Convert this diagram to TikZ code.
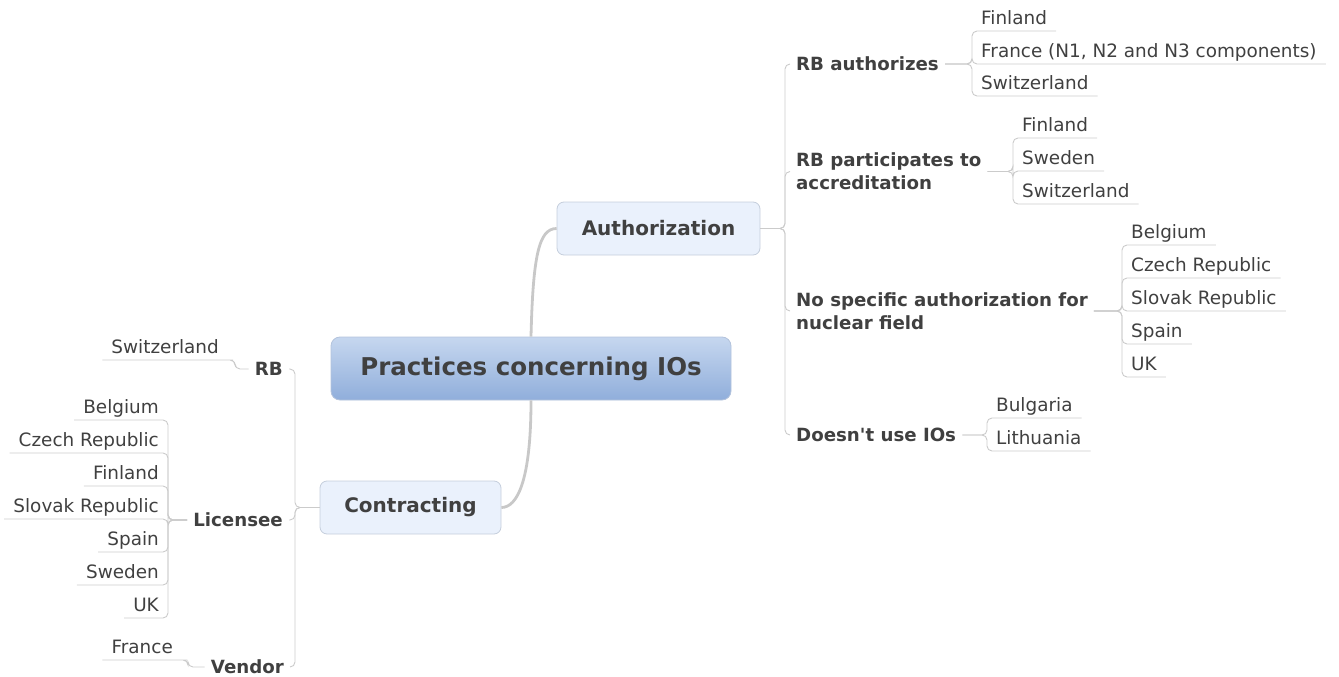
\documentclass[tikz,border=0pt]{standalone}
\usepackage{fontspec}
\setmainfont{DejaVu Sans}
\begin{document}
\definecolor{txt}{HTML}{404040}
\definecolor{ln}{HTML}{CBCBCB}
\definecolor{mainln}{HTML}{C8C8C8}
\definecolor{subfill}{HTML}{EAF1FC}
\definecolor{subdraw}{HTML}{C5CEDC}
\definecolor{ctop}{HTML}{C6D7EF}
\definecolor{cbot}{HTML}{90AEDB}
\definecolor{cdraw}{HTML}{B3C3DC}
\begin{tikzpicture}[x=1pt,y=-1pt,
  centerbox/.style={draw=cdraw, line width=0.8pt, rounded corners=9pt, top color=ctop, bottom color=cbot, minimum width=400pt, minimum height=63pt, text=txt, font=\fontsize{24.5}{28}\selectfont\bfseries, inner sep=0pt},
  subbox/.style={draw=subdraw, line width=0.8pt, rounded corners=7pt, fill=subfill, minimum height=53pt, text=txt, font=\fontsize{20}{24}\selectfont\bfseries, inner sep=0pt},
  lbl/.style={text=txt, font=\fontsize{18.2}{23}\selectfont\bfseries, inner xsep=6pt, inner ysep=0pt, align=left},
  lblr/.style={lbl, align=right},
  leaf/.style={text=txt, font=\fontsize{18.4}{22}\selectfont, inner xsep=9pt, inner ysep=1.5pt, text height=13.5pt, text depth=4.5pt},
  thinline/.style={draw=ln, line width=0.9pt, rounded corners=5pt},
  mainline/.style={draw=mainln, line width=2.8pt},
]
\useasboundingbox (0,0) rectangle (1339,677);

% central and main topics
\node[centerbox] (center) at (531,368.5) {Practices concerning IOs};
\node[subbox, minimum width=203pt] (auth) at (658.5,228.5) {Authorization};
\node[subbox, minimum width=181pt] (contr) at (410.5,507.5) {Contracting};

\draw[mainline] (center.north) .. controls +(2,-80) and +(-18,0) .. (auth.west);
\draw[mainline] (center.south) .. controls +(0,80) and +(16,0) .. (contr.east);

% spine coordinates
\coordinate (spAuth) at (785,0);
\coordinate (spCon) at (295,0);
\coordinate (spA) at (972,0);
\coordinate (spB) at (1013,0);
\coordinate (spC) at (1122,0);
\coordinate (spD) at (987,0);
\coordinate (spRB) at (235,0);
\coordinate (spLic) at (168,0);
\coordinate (spVen) at (188,0);

% right side labels
\node[lbl, anchor=west] (rba) at (790,64) {RB authorizes};
\node[lbl, anchor=west] (rbp) at (790,171.5) {RB participates to\\accreditation};
\node[lbl, anchor=west] (nos) at (790,311) {No specific authorization for\\nuclear field};
\node[lbl, anchor=west] (dnu) at (790,435) {Doesn\textquotesingle t use IOs};

\foreach \n in {rba,rbp,nos,dnu}
  \draw[thinline] (auth.east) -- (auth.east -| spAuth) |- (\n.west);

% left side labels
\node[lblr, anchor=east] (rb) at (289,369) {RB};
\node[lblr, anchor=east] (lic) at (289,520) {Licensee};
\node[lblr, anchor=east] (ven) at (290,667) {Vendor};

\foreach \n in {rb,lic,ven}
  \draw[thinline] (contr.west) -- (contr.west -| spCon) |- (\n.east);

% group A
\node[leaf, anchor=south west] (a1) at (972,31) {Finland};
\node[leaf, anchor=south west] (a2) at (972,64) {France (N1, N2 and N3 components)};
\node[leaf, anchor=south west] (a3) at (972,96) {Switzerland};
\foreach \n in {a1,a2,a3}
  \draw[thinline] (rba.east) -- (rba.east -| spA) |- (\n.south east);

% group B
\node[leaf, anchor=south west] (b1) at (1013,138) {Finland};
\node[leaf, anchor=south west] (b2) at (1013,171) {Sweden};
\node[leaf, anchor=south west] (b3) at (1013,204) {Switzerland};
\foreach \n in {b1,b2,b3}
  \draw[thinline] (rbp.east) -- (rbp.east -| spB) |- (\n.south east);

% group C
\node[leaf, anchor=south west] (c1) at (1122,245) {Belgium};
\node[leaf, anchor=south west] (c2) at (1122,278) {Czech Republic};
\node[leaf, anchor=south west] (c3) at (1122,311) {Slovak Republic};
\node[leaf, anchor=south west] (c4) at (1122,344) {Spain};
\node[leaf, anchor=south west] (c5) at (1122,377) {UK};
\foreach \n in {c1,c2,c3,c4,c5}
  \draw[thinline] (nos.east) -- (nos.east -| spC) |- (\n.south east);

% group D
\node[leaf, anchor=south west] (d1) at (987,418) {Bulgaria};
\node[leaf, anchor=south west] (d2) at (987,451) {Lithuania};
\foreach \n in {d1,d2}
  \draw[thinline] (dnu.east) -- (dnu.east -| spD) |- (\n.south east);

% RB leaf
\node[leaf, anchor=south east] (rbsw) at (228,360) {Switzerland};
\draw[thinline] (rb.west) -- (rb.west -| spRB) |- (rbsw.south east) -- (rbsw.south west);

% Licensee leaves
\node[leaf, anchor=south east] (l1) at (168,420) {Belgium};
\node[leaf, anchor=south east] (l2) at (168,453) {Czech Republic};
\node[leaf, anchor=south east] (l3) at (168,486) {Finland};
\node[leaf, anchor=south east] (l4) at (168,519) {Slovak Republic};
\node[leaf, anchor=south east] (l5) at (168,552) {Spain};
\node[leaf, anchor=south east] (l6) at (168,585) {Sweden};
\node[leaf, anchor=south east] (l7) at (168,618) {UK};
\foreach \n in {l1,l2,l3,l4,l5,l6,l7}
  \draw[thinline] (lic.west) -- (lic.west -| spLic) |- (\n.south west);

% Vendor leaf
\node[leaf, anchor=south east] (vfr) at (182,660) {France};
\draw[thinline] (ven.west) -- (ven.west -| spVen) |- (vfr.south east) -- (vfr.south west);
\end{tikzpicture}
\end{document}
